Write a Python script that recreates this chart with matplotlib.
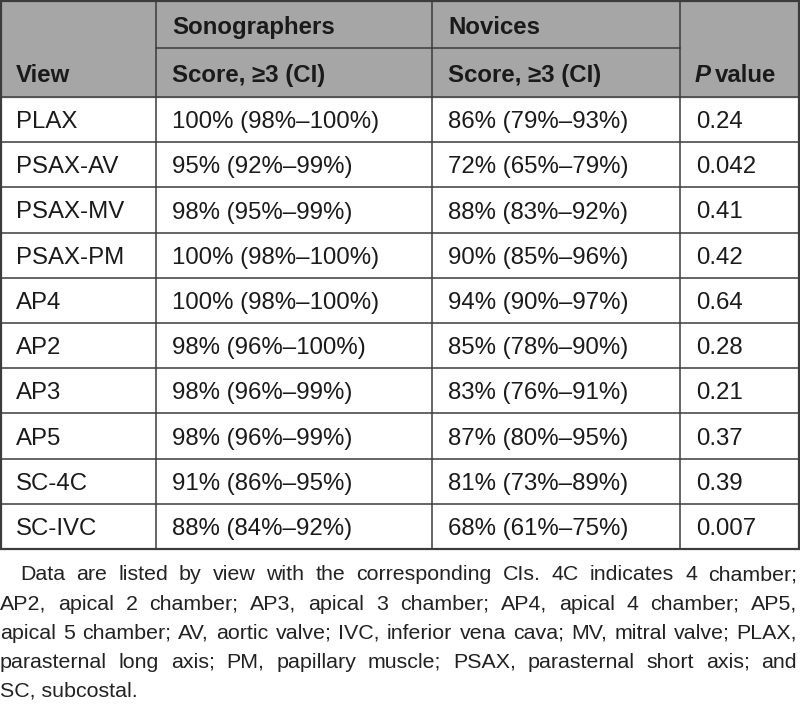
import matplotlib
matplotlib.use('Agg')
import matplotlib.pyplot as plt
from matplotlib.patches import Rectangle

views = ['PLAX', 'PSAX-AV', 'PSAX-MV', 'PSAX-PM', 'AP4', 'AP2', 'AP3', 'AP5', 'SC-4C', 'SC-IVC']
sono = ['100% (98%–100%)', '95% (92%–99%)', '98% (95%–99%)', '100% (98%–100%)',
        '100% (98%–100%)', '98% (96%–100%)', '98% (96%–99%)', '98% (96%–99%)',
        '91% (86%–95%)', '88% (84%–92%)']
novices = ['86% (79%–93%)', '72% (65%–79%)', '88% (83%–92%)', '90% (85%–96%)',
           '94% (90%–97%)', '85% (78%–90%)', '83% (76%–91%)', '87% (80%–95%)',
           '81% (73%–89%)', '68% (61%–75%)']
pvals = ['0.24', '0.042', '0.41', '0.42', '0.64', '0.28', '0.21', '0.37', '0.39', '0.007']
group_labels = ['Sonographers', 'Novices']
sub_label = 'Score, ≥3 (CI)'
footnote = ['Data are listed by view with the corresponding CIs. 4C indicates 4 chamber;',
            'AP2, apical 2 chamber; AP3, apical 3 chamber; AP4, apical 4 chamber; AP5,',
            'apical 5 chamber; AV, aortic valve; IVC, inferior vena cava; MV, mitral valve; PLAX,',
            'parasternal long axis; PM, papillary muscle; PSAX, parasternal short axis; and',
            'SC, subcostal.']

W, H = 800, 707
fig = plt.figure(figsize=(8, 7.07), dpi=100)
ax = fig.add_axes([0, 0, 1, 1])
ax.set_xlim(0, W)
ax.set_ylim(H, 0)
ax.axis('off')

fam = ['Liberation Sans', 'DejaVu Sans']
fs = 17.3
txt = '#1a1a1a'
line_c = '#3c3c3c'
gray = '#a6a6a6'

col_x = [1, 156, 432, 680, 799]
head_mid, head_bot = 48, 97
row_h = (549 - head_bot) / len(views)
table_bot = head_bot + row_h * len(views)
pad = 16

# header background
ax.add_patch(Rectangle((col_x[0], 1), col_x[-1] - col_x[0], head_bot - 1, color=gray, zorder=0))

# grid lines
lw = 1.1
for x in col_x[1:-1]:
    ax.plot([x, x], [1, table_bot], color=line_c, lw=lw)
ax.plot([col_x[1], col_x[3]], [head_mid, head_mid], color=line_c, lw=lw)
for i in range(len(views) + 1):
    y = head_bot + i * row_h
    ax.plot([col_x[0], col_x[-1]], [y, y], color=line_c, lw=lw)
ax.add_patch(Rectangle((col_x[0], 1), col_x[-1] - col_x[0], table_bot - 1,
                       fill=False, edgecolor=line_c, lw=1.6, zorder=3))

# header text
for j, g in enumerate(group_labels):
    ax.text(col_x[j + 1] + pad, 34, g, fontsize=fs, fontweight='bold', family=fam, color=txt)
    ax.text(col_x[j + 1] + pad, 82, sub_label, fontsize=fs, fontweight='bold', family=fam, color=txt)
ax.text(col_x[0] + 15, 82, 'View', fontsize=fs, fontweight='bold', family=fam, color=txt)
p = ax.text(col_x[3] + pad - 1, 82, 'P', fontsize=fs, fontweight='bold', style='italic', family=fam, color=txt)
fig.canvas.draw()
r = fig.canvas.get_renderer()
pw = p.get_window_extent(r).width
ax.text(col_x[3] + pad - 1 + pw + 4, 82, 'value', fontsize=fs, fontweight='bold', family=fam, color=txt)

# body
for i in range(len(views)):
    yb = head_bot + i * row_h + row_h / 2 + 8.5
    for j, val in enumerate([views[i], sono[i], novices[i], pvals[i]]):
        ax.text(col_x[j] + pad - (1 if j == 0 else 0), yb, val, fontsize=fs, family=fam, color=txt)

# footnote, justified
ffam = ['Liberation Sans Narrow', 'Liberation Sans', 'DejaVu Sans']
ffs = 15.4
fc = '#222222'
base0, lstep = 580.5, 29.1
for k, line in enumerate(footnote):
    yb = base0 + k * lstep
    x0 = 20 if k == 0 else 0
    words = line.split(' ')
    if k == len(footnote) - 1:
        ax.text(x0, yb, line, fontsize=ffs, family=ffam, color=fc)
        continue
    objs = [ax.text(0, yb, w, fontsize=ffs, family=ffam, color=fc) for w in words]
    fig.canvas.draw()
    widths = [o.get_window_extent(r).width for o in objs]
    gap = (797 - x0 - sum(widths)) / (len(words) - 1)
    x = x0
    for o, w in zip(objs, widths):
        o.set_x(x)
        x += w + gap

fig.savefig('out.png', dpi=100)
